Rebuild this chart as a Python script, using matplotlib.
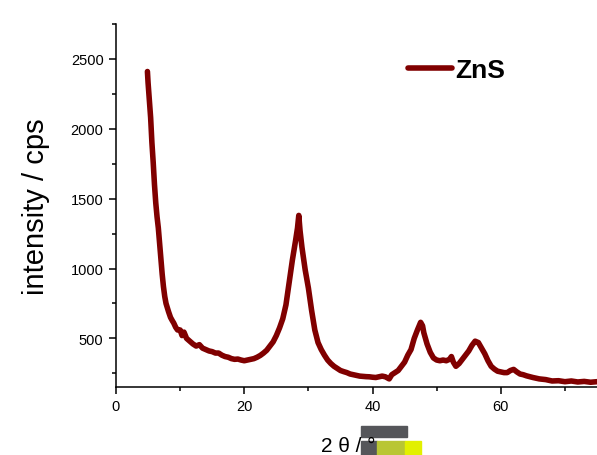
import matplotlib
matplotlib.use("Agg")
import matplotlib.pyplot as plt
from matplotlib.patches import Rectangle
from matplotlib.ticker import MultipleLocator

plt.rcParams['font.family'] = ['Liberation Sans', 'DejaVu Sans']

two_theta = [4.9, 5.0, 5.2, 5.4, 5.6, 5.8, 6.0, 6.2, 6.4, 6.6, 6.8, 7.0, 7.2, 7.4, 7.6, 7.8,
             8.0, 8.2, 8.5, 8.8, 9.0, 9.3, 9.6, 10.0, 10.3, 10.6, 11.0, 11.5, 12.0, 12.5,
             13.0, 13.5, 14.0, 14.5, 15.0, 15.5, 16.0, 16.5, 17.0, 17.5, 18.0, 18.5, 19.0,
             19.5, 20.0, 20.5, 21.0, 21.5, 22.0, 22.5, 23.0, 23.5, 24.0, 24.5, 25.0, 25.5,
             26.0, 26.5, 27.0, 27.5, 28.0, 28.3, 28.5, 28.7, 29.0, 29.5, 30.0, 30.5, 31.0,
             31.5, 32.0, 32.5, 33.0, 33.5, 34.0, 34.5, 35.0, 35.5, 36.0, 36.5, 37.0, 37.5,
             38.0, 38.5, 39.0, 39.5, 40.0, 40.5, 41.0, 41.5, 42.0, 42.6, 43.0, 43.5, 44.0,
             44.5, 45.0, 45.5, 46.0, 46.5, 47.0, 47.5, 47.8, 48.0, 48.5, 49.0, 49.5, 50.0,
             50.5, 51.0, 51.5, 52.0, 52.3, 52.6, 53.0, 53.5, 54.0, 54.5, 55.0, 55.5, 56.0,
             56.5, 57.0, 57.5, 58.0, 58.5, 59.0, 59.5, 60.0, 60.5, 61.0, 61.5, 62.0, 62.5,
             63.0, 63.5, 64.0, 65.0, 66.0, 67.0, 68.0, 69.0, 70.0, 71.0, 72.0, 73.0, 74.0,
             75.0]
intensity = [2410, 2330, 2200, 2080, 1900, 1760, 1600, 1470, 1370, 1290, 1180, 1070, 960, 870,
             800, 750, 720, 690, 650, 625, 610, 580, 560, 560, 520, 545, 500, 480, 460, 445,
             455, 430, 420, 410, 405, 395, 395, 380, 370, 365, 355, 350, 352, 345, 340, 345,
             350, 355, 365, 378, 395, 415, 445, 475, 520, 575, 640, 740, 900, 1060, 1200,
             1290, 1380, 1270, 1150, 990, 860, 700, 560, 470, 420, 380, 345, 320, 300, 285,
             270, 262, 255, 245, 240, 235, 230, 228, 226, 225, 222, 220, 225, 230, 225, 210,
             240, 255, 270, 300, 330, 380, 420, 500, 560, 615, 590, 540, 460, 400, 360, 345,
             340, 345, 340, 350, 370, 330, 300, 320, 350, 380, 410, 450, 480, 470, 430, 390,
             340, 300, 280, 265, 260, 255, 255, 270, 278, 260, 245, 240, 232, 220, 210, 205,
             195, 197, 190, 195, 188, 192, 186, 190]

series_label = "ZnS"
x_ticks = [0, 20, 40, 60]
y_ticks = [500, 1000, 1500, 2000, 2500]

W, H = 597, 456
fig = plt.figure(figsize=(W / 100, H / 100), dpi=100)
ax = fig.add_axes([116 / W, 1 - 388 / H, 1 - 116 / W, (388 - 25) / H])

line_color = '#800000'
ax.plot(two_theta, intensity, color=line_color, lw=4.0, solid_joinstyle='round',
        solid_capstyle='round', label=series_label)

ax.set_xlim(0, 75)
ax.set_ylim(152, 2750)
ax.set_xticks(x_ticks)
ax.set_yticks(y_ticks)
ax.xaxis.set_minor_locator(MultipleLocator(10))
ax.yaxis.set_minor_locator(MultipleLocator(250))

for s in ['top', 'right']:
    ax.spines[s].set_visible(False)
for s in ['left', 'bottom']:
    ax.spines[s].set_linewidth(1.1)
ax.tick_params(which='major', direction='out', length=5, width=1.1, labelsize=10.5, pad=4)
ax.tick_params(which='minor', direction='out', length=3, width=1.1)

ax.set_ylabel("intensity / cps", fontsize=21)
ax.yaxis.set_label_coords(-(116 - 50) / (W - 116), 0.5)

# legend
ax.legend(loc='center left', bbox_to_anchor=(408 / W, 1 - 71 / H),
          bbox_transform=fig.transFigure, frameon=False, handlelength=1.65,
          handletextpad=0.15, borderpad=0, borderaxespad=0,
          prop={'size': 19, 'weight': 'bold'})

# artifact boxes near the x label
fig.add_artist(Rectangle((361 / W, 1 - 438 / H), 46 / W, 11 / H,
                         transform=fig.transFigure, color='#55565a', zorder=1))
fig.add_artist(Rectangle((361 / W, 1 - 456 / H), 16 / W, 14 / H,
                         transform=fig.transFigure, color='#55565a', zorder=1))
fig.add_artist(Rectangle((377 / W, 1 - 456 / H), 28 / W, 14 / H,
                         transform=fig.transFigure, color='#b9c634', zorder=1))
fig.add_artist(Rectangle((405 / W, 1 - 456 / H), 16 / W, 14 / H,
                         transform=fig.transFigure, color='#e2f000', zorder=1))

fig.text(321 / W, 1 - 452 / H, "2 θ / °", fontsize=15, ha='left', va='baseline', zorder=5)

fig.savefig("out.png", dpi=100)
